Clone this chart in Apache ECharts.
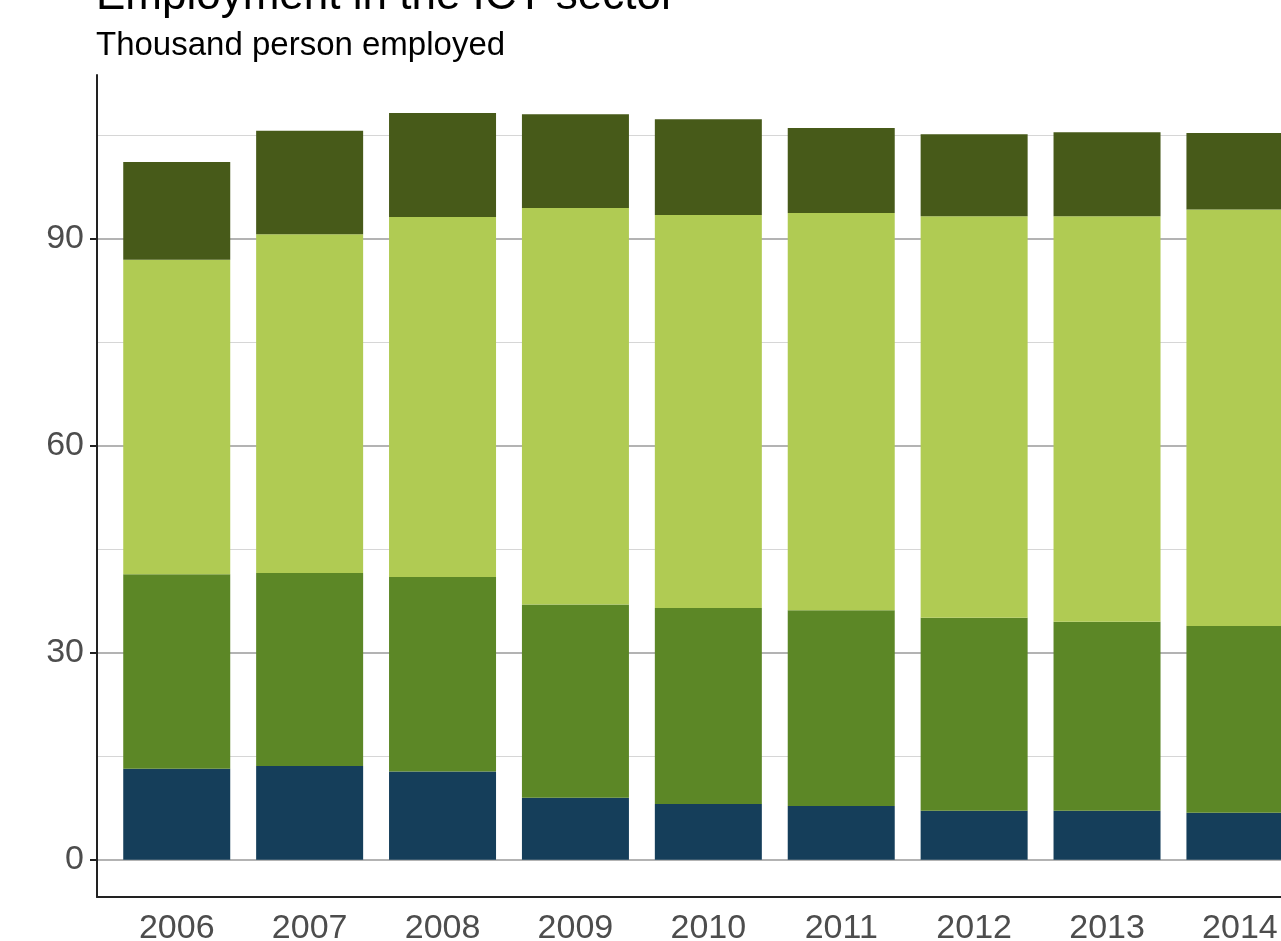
<!DOCTYPE html>
<html>
<head>
<meta charset="utf-8">
<script src="https://cdn.jsdelivr.net/npm/echarts@6/dist/echarts.min.js"></script>
<style>
  html, body { margin: 0; padding: 0; background: #fff; }
  #chart { width: 1281px; height: 941px; }
</style>
</head>
<body>
<div id="chart"></div>
<script>
// years on the x axis
var years = [2006, 2007, 2008, 2009, 2010, 2011, 2012, 2013, 2014];

// thousand persons, stacked from bottom to top
var serieA = [13.2, 13.6, 12.8, 9.0, 8.1, 7.8, 7.1, 7.1, 6.8];
var serieB = [28.2, 28.0, 28.2, 28.0, 28.4, 28.4, 28.0, 27.4, 27.1];
var serieC = [45.6, 49.1, 52.2, 57.5, 57.0, 57.6, 58.2, 58.8, 60.4];
var serieD = [14.2, 15.0, 15.1, 13.6, 13.9, 12.3, 11.9, 12.2, 11.1];

var majorTicks = [0, 30, 60, 90];
var minorTicks = [15, 45, 75, 105];

var policeTxt = "'Liberation Sans', Arial, sans-serif";

// value first, year second : the stack is done on the first column
function toPairs(vals) {
  var out = [];
  for (var i = 0; i < years.length; i++) {
    out.push([vals[i], years[i]]);
  }
  return out;
}

function barSerie(nom, vals, couleur) {
  return {
    name: nom,
    type: 'bar',
    stack: 'total',
    barWidth: 107,
    encode: { x: 1, y: 0 },
    itemStyle: { color: couleur },
    emphasis: { disabled: true },
    data: toPairs(vals)
  };
}

var chart = echarts.init(document.getElementById('chart'), null, { renderer: 'canvas' });

var option = {
  animation: false,
  backgroundColor: '#ffffff',
  title: [
    {
      text: 'Employment in the ICT sector',
      left: 96,
      top: -25,
      padding: 0,
      textStyle: { fontFamily: policeTxt, fontSize: 44, fontWeight: 'normal', color: '#000' }
    },
    {
      text: 'Thousand person employed',
      left: 96,
      top: 29,
      padding: 0,
      textStyle: { fontFamily: policeTxt, fontSize: 33, fontWeight: 'normal', color: '#000' }
    }
  ],
  grid: { left: 97, top: 75, bottom: 44, right: 0, containLabel: false, outerBoundsMode: 'none' },
  xAxis: {
    type: 'value',
    min: 2005.4,
    max: 2014.309,
    axisLine: { show: true, onZero: false, lineStyle: { color: '#222', width: 2 } },
    axisTick: { show: false, customValues: years },
    axisLabel: {
      customValues: years,
      formatter: function (v) { return '' + v; },
      fontFamily: policeTxt, fontSize: 34, color: '#4d4d4d', margin: 15
    },
    splitLine: { show: false }
  },
  yAxis: [
    {
      type: 'value',
      min: -5.4,
      max: 113.8,
      axisLine: { show: true, lineStyle: { color: '#222', width: 2 } },
      axisTick: { show: true, length: 7, customValues: majorTicks, lineStyle: { color: '#222', width: 2 } },
      axisLabel: {
        customValues: majorTicks,
        fontFamily: policeTxt, fontSize: 34, color: '#4d4d4d', margin: 13
      },
      splitLine: { show: true, lineStyle: { color: '#b3b3b3', width: 2 } }
    },
    {
      // second axis only for the minor grid lines
      type: 'value',
      position: 'left',
      min: -5.4,
      max: 113.8,
      axisLine: { show: false },
      axisTick: { show: false, customValues: minorTicks },
      axisLabel: { show: false, customValues: minorTicks },
      splitLine: { show: true, lineStyle: { color: '#d6d6d6', width: 1 } }
    }
  ],
  series: [
    barSerie('ICT manufacturing', serieA, '#153e5a'),
    barSerie('Telecommunications', serieB, '#5c8726'),
    barSerie('Computer services', serieC, '#b0cb53'),
    barSerie('Publishing', serieD, '#475a19')
  ]
};

chart.setOption(option);
</script>
</body>
</html>
